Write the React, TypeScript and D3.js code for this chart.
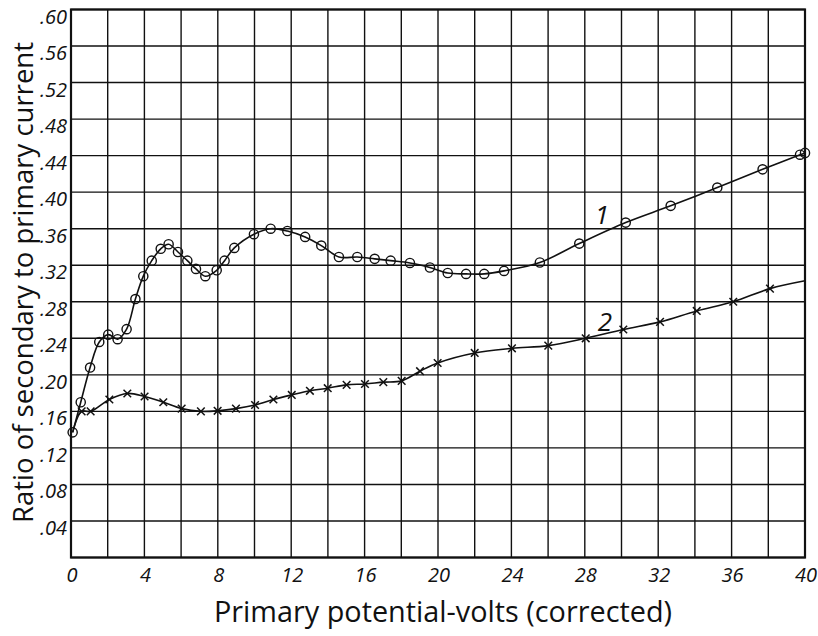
import React from "react";
import * as d3 from "d3";

const W = 818;
const H = 636;

const xTicks = [0, 4, 8, 12, 16, 20, 24, 28, 32, 36, 40];
const yTicks = [0.04, 0.08, 0.12, 0.16, 0.2, 0.24, 0.28, 0.32, 0.36, 0.4, 0.44, 0.48, 0.52, 0.56, 0.6];
const yTickLabels = [".04", ".08", ".12", ".16", ".20", ".24", ".28", ".32", ".36", ".40", ".44", ".48", ".52", ".56", ".60"];

// Curve 1 (circles)
const s1X = [0.09, 0.53, 1.04, 1.54, 2.03, 2.54, 3.03, 3.51, 3.94, 4.4, 4.89, 5.32, 5.83, 6.34, 6.81, 7.32, 7.94, 8.37, 8.9, 9.97, 10.88, 11.79, 12.76, 13.64, 14.6, 15.6, 16.55, 17.42, 18.47, 19.56, 20.53, 21.53, 22.52, 23.6, 25.55, 27.7, 30.23, 32.68, 35.22, 37.69, 39.73, 40.0];
const s1Y = [0.137, 0.17, 0.208, 0.236, 0.244, 0.239, 0.25, 0.283, 0.308, 0.325, 0.338, 0.343, 0.3345, 0.325, 0.316, 0.308, 0.3145, 0.325, 0.339, 0.354, 0.36, 0.3575, 0.351, 0.3415, 0.329, 0.329, 0.327, 0.325, 0.3225, 0.3175, 0.3115, 0.3105, 0.3105, 0.3138, 0.323, 0.3437, 0.3667, 0.385, 0.405, 0.425, 0.441, 0.443];

// Curve 2 (crosses)
const s2X = [0.58, 1.07, 2.09, 3.07, 4.01, 5.03, 6.03, 7.08, 7.99, 8.99, 10.03, 11.03, 12.03, 13.02, 13.99, 15.02, 16.02, 17.02, 18.02, 19.02, 19.98, 22.0, 24.03, 26.01, 28.05, 30.1, 32.1, 34.1, 36.09, 38.09];
const s2Y = [0.16, 0.16, 0.173, 0.1796, 0.1763, 0.17, 0.163, 0.16, 0.1606, 0.163, 0.167, 0.173, 0.178, 0.1825, 0.1854, 0.189, 0.19, 0.192, 0.1934, 0.204, 0.213, 0.224, 0.229, 0.232, 0.24, 0.2496, 0.258, 0.27, 0.28, 0.2944];
// curve 2 starts at the shared first circle and runs to the right border
const s2StartX = 0.09;
const s2StartY = 0.137;
const s2EndX = 40;
const s2EndY = 0.303;

const curveLabels = ["1", "2"];

const X0 = 71, X1 = 805, Y0 = 557.5, Y1 = 9.5;

export default function App() {
  const x = d3.scaleLinear().domain([0, 40]).range([X0, X1]);
  const y = d3.scaleLinear().domain([0, 0.6]).range([Y0, Y1]);

  const line = d3
    .line<[number, number]>()
    .x((d) => x(d[0]))
    .y((d) => y(d[1]))
    .curve(d3.curveCatmullRom.alpha(0.5));

  const p1: [number, number][] = s1X.map((v, i) => [v, s1Y[i]]);
  const p2: [number, number][] = [
    [s2StartX, s2StartY],
    ...s2X.map((v, i) => [v, s2Y[i]] as [number, number]),
    [s2EndX, s2EndY],
  ];

  const vGrid = d3.range(0, 41, 2);
  const hGrid = d3.range(0, 16).map((i) => i * 0.04);

  const font = "'Open Sans', 'DejaVu Sans', sans-serif";
  const ink = "#111";

  return (
    <svg
      width={W}
      height={H}
      style={{ position: "absolute", left: 0, top: 0, background: "#fff" }}
    >
      <rect x={0} y={0} width={W} height={H} fill="#fff" />
      {/* grid */}
      {vGrid.map((g) => (
        <line key={"v" + g} x1={x(g)} x2={x(g)} y1={y(0)} y2={y(0.6)} stroke={ink} strokeWidth={1.4} />
      ))}
      {hGrid.map((g, i) => (
        <line key={"h" + i} x1={x(0)} x2={x(40)} y1={y(g)} y2={y(g)} stroke={ink} strokeWidth={1.4} />
      ))}
      <rect x={x(0)} y={y(0.6)} width={x(40) - x(0)} height={y(0) - y(0.6)} fill="none" stroke={ink} strokeWidth={2.2} />

      {/* curves */}
      <path d={line(p1) || ""} fill="none" stroke={ink} strokeWidth={1.6} />
      <path d={line(p2) || ""} fill="none" stroke={ink} strokeWidth={1.6} />

      {/* circle markers */}
      {p1.map((d, i) => (
        <circle key={"c" + i} cx={x(d[0])} cy={y(d[1])} r={4.6} fill="none" stroke={ink} strokeWidth={1.4} />
      ))}
      {/* cross markers */}
      {s2X.map((v, i) => {
        const cx = x(v), cy = y(s2Y[i]), s = 3.8;
        return (
          <g key={"x" + i} stroke={ink} strokeWidth={1.5}>
            <line x1={cx - s} x2={cx + s} y1={cy - s} y2={cy + s} />
            <line x1={cx - s} x2={cx + s} y1={cy + s} y2={cy - s} />
          </g>
        );
      })}

      {/* curve labels */}
      <text x={602} y={224} fontFamily={font} fontStyle="italic" fontSize={26} fill={ink} textAnchor="middle">
        {curveLabels[0]}
      </text>
      <text x={605} y={331} fontFamily={font} fontStyle="italic" fontSize={26} fill={ink} textAnchor="middle">
        {curveLabels[1]}
      </text>

      {/* x tick labels */}
      {xTicks.map((t) => (
        <text key={"xt" + t} x={x(t) + 1} y={582} fontFamily={font} fontStyle="italic" fontSize={20} fill={ink} textAnchor="middle">
          {String(t)}
        </text>
      ))}
      {/* y tick labels */}
      {yTicks.map((t, i) => (
        <text key={"yt" + i} x={67} y={y(t) + 14} fontFamily={font} fontStyle="italic" fontSize={20} fill={ink} textAnchor="end">
          {yTickLabels[i]}
        </text>
      ))}

      {/* axis titles */}
      <text
        x={443}
        y={622}
        fontFamily={font}
        fontSize={29}
        fill={ink}
        textAnchor="middle"
        textLength={458}
        lengthAdjust="spacingAndGlyphs"
      >
        Primary potential-volts (corrected)
      </text>
      <text
        transform={`translate(33, 282.5) rotate(-90)`}
        fontFamily={font}
        fontSize={28}
        fill={ink}
        textAnchor="middle"
        textLength={481}
        lengthAdjust="spacingAndGlyphs"
      >
        Ratio of secondary to primary current
      </text>
    </svg>
  );
}
